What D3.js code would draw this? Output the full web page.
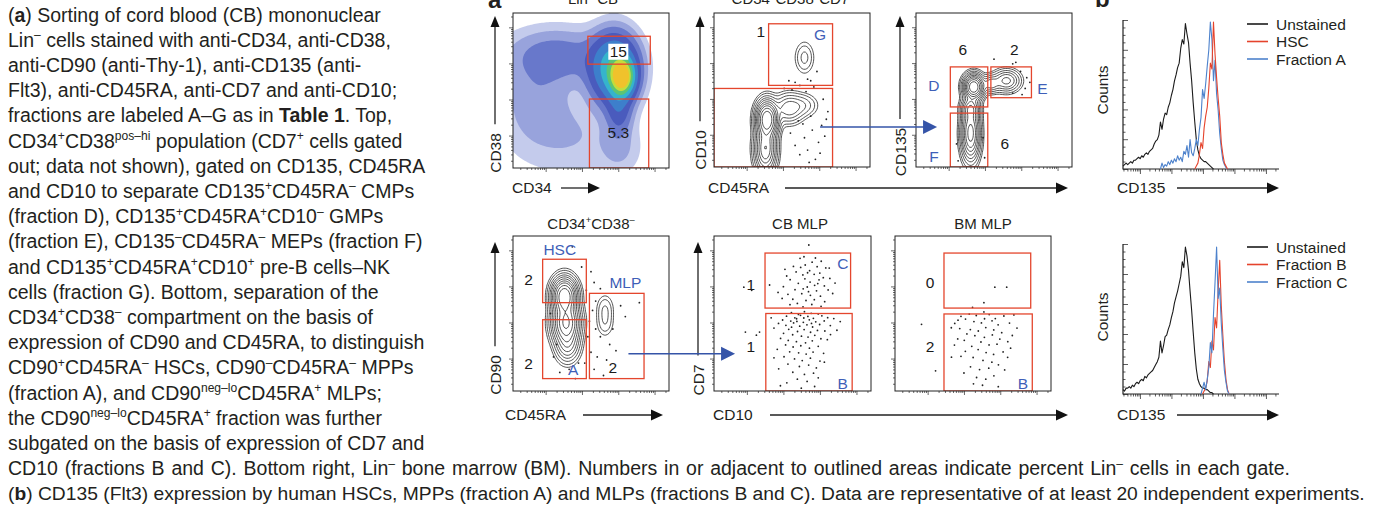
<!DOCTYPE html>
<html>
<head>
<meta charset="utf-8">
<script src="https://cdn.jsdelivr.net/npm/d3@7"></script>
<style>
  body { margin: 0; background: #fff; }
  text { font-family: "Liberation Sans", Arial, sans-serif; fill: #231f20; }
</style>
</head>
<body>
<div id="figure"></div>
<script>
// ---------- caption ----------
const captionLeft = [
  '(**a**) Sorting of cord blood (CB) mononuclear',
  'Lin^{–} cells stained with anti-CD34, anti-CD38,',
  'anti-CD90 (anti-Thy-1), anti-CD135 (anti-',
  'Flt3), anti-CD45RA, anti-CD7 and anti-CD10;',
  'fractions are labeled A–G as in **Table 1**. Top,',
  'CD34^{+}CD38^{pos–hi} population (CD7^{+} cells gated',
  'out; data not shown), gated on CD135, CD45RA',
  'and CD10 to separate CD135^{+}CD45RA^{–} CMPs',
  '(fraction D), CD135^{+}CD45RA^{+}CD10^{–} GMPs',
  '(fraction E), CD135^{–}CD45RA^{–} MEPs (fraction F)',
  'and CD135^{+}CD45RA^{+}CD10^{+} pre-B cells–NK',
  'cells (fraction G). Bottom, separation of the',
  'CD34^{+}CD38^{–} compartment on the basis of',
  'expression of CD90 and CD45RA, to distinguish',
  'CD90^{+}CD45RA^{–} HSCs, CD90^{–}CD45RA^{–} MPPs',
  '(fraction A), and CD90^{neg–lo}CD45RA^{+} MLPs;',
  'the CD90^{neg–lo}CD45RA^{+} fraction was further',
  'subgated on the basis of expression of CD7 and'
];
const captionWide = [
  'CD10 (fractions B and C). Bottom right, Lin^{–} bone marrow (BM). Numbers in or adjacent to outlined areas indicate percent Lin^{–} cells in each gate.',
  '(**b**) CD135 (Flt3) expression by human HSCs, MPPs (fraction A) and MLPs (fractions B and C). Data are representative of at least 20 independent experiments.'
];
const captionWideWidths = [1282, 1358];

// ---------- flow panels: populations as [x, y, spreadX, spreadY, weight] in 0-100 display units ----------
const linCBComponents = [
  [70, 59, 4.5, 7, 1.0], [65, 64, 9, 13, 0.5], [28, 72, 20, 11, 0.09], [15, 45, 14, 16, 0.045],
  [35, 20, 25, 16, 0.03], [68, 38, 5, 10, 0.14], [68, 12, 8, 10, 0.03]
];
const linCBLevels = [0.012, 0.03, 0.06, 0.11, 0.2, 0.34, 0.52, 0.72, 0.9];
const linCBGates = [[48, 88, 67, 85], [49, 87, 0, 44.5]];
const linCBLabels = [['15', 67.5, 75, 'k', true], ['5.3', 67.5, 23, 'k']];

const cd7negComponents = [
  [34, 31, 3.5, 6, 1.0], [33, 12, 3.5, 8, 0.5], [48, 38, 5, 5, 0.15], [57, 40, 5, 4, 0.06], [58, 71, 3.3, 5.6, 0.05]
];
const cd7negGates = [[35, 76, 53, 93], [0, 76, 0, 51]];
const cd7negLabels = [['1', 30, 88, 'k'], ['G', 68, 86, 'b']];
const cd7negDots = [
  [49, 22], [52, 14], [55, 8], [58, 19], [60, 11], [63, 24], [65, 5], [67, 16], [69, 27], [72, 31], [57, 28],
  [54, 30], [62, 33], [68, 9], [61, 3], [71, 20], [73, 36], [70, 44], [59, 49], [50, 50], [45, 51], [64, 52],
  [62, 56], [55, 53], [48, 56], [66, 62], [52, 55], [60, 57]
];

const cmpComponents = [
  [37, 52, 3.2, 4, 1.0], [35, 22, 3, 9, 0.6], [35, 38, 3, 4, 0.3], [58, 56, 4.5, 3.7, 0.2], [48, 54, 3, 3, 0.15]
];
const cmpGates = [[22, 46, 39, 65], [48, 74, 45, 65], [22, 46, 0, 35]];
const cmpLabels = [['6', 30, 76, 'k'], ['2', 63, 76, 'k'], ['D', 11.5, 53, 'b'], ['E', 81, 51, 'b'], ['F', 11.5, 7, 'b'], ['6', 57, 15, 'k']];
const cmpDots = [[64, 68], [67, 62], [71, 58], [70, 51], [73, 55], [62, 67], [50, 70], [27, 4], [44, 6], [26, 15], [43, 19], [62, 48], [68, 47]];

const cd38negComponents = [
  [33, 61, 4, 6, 1.0], [34, 44, 4.5, 7, 0.75], [35, 30, 4, 6, 0.2], [59, 53, 3, 5, 0.04], [59, 44, 3, 5, 0.035]
];
const cd38negGates = [[19, 47, 57, 85], [19, 47, 8, 46], [49, 84, 8, 63]];
const cd38negLabels = [['HSC', 30, 91, 'b'], ['2', 10, 72, 'k'], ['MLP', 72, 70, 'b'], ['2', 10, 18, 'k'], ['A', 38.5, 14, 'b'], ['2', 64, 15, 'k']];
const cd38negDots = [
  [38, 93], [44, 80], [50, 77], [52, 70], [47, 65], [53, 58], [56, 66], [66, 67], [69, 55], [72, 48], [64, 40],
  [62, 30], [54, 22], [50, 25], [46, 18], [52, 14], [56, 35], [49, 45], [48, 35], [42, 18], [30, 12], [36, 14],
  [26, 22], [28, 30], [24, 50], [81, 57], [60, 20], [66, 26], [58, 10], [40, 8], [53, 40], [51, 52]
];

const cbMLPGates = [[32.5, 87, 53.5, 89], [33, 88, 0, 50]];
const cbMLPLabels = [['1', 23.5, 69, 'k'], ['C', 82, 82, 'b'], ['1', 23.5, 29, 'k'], ['B', 82, 5, 'b']];
const cbMLPDots = [
  [60.4, 94.2], [57.3, 86.6], [54.8, 85.6], [71.2, 79.4], [62.5, 83.1], [58.1, 81.3], [65.7, 80.2], [60.9, 77.6],
  [52.3, 76.8], [67.4, 76.1], [46.3, 74.2], [56.6, 74.9], [63.8, 75.3], [69.6, 73.1], [48.5, 71.8], [57.9, 72.4],
  [61.2, 70.3], [66.9, 71.7], [73.8, 72.6], [53.7, 69.5], [64.1, 68.2], [59.4, 67.1], [70.3, 67.8], [44.2, 67.3],
  [51.6, 65.4], [56.8, 65.9], [65.3, 64.6], [72.7, 65.2], [40.8, 63.6], [47.1, 62.4], [55.9, 62.8], [61.4, 61.7],
  [67.8, 61.2], [75.6, 62.9], [43.4, 59.7], [50.2, 59.2], [58.6, 58.4], [63.9, 58.9], [70.5, 57.6], [53.1, 56.5],
  [62.3, 55.8], [48.4, 55.7], [68.2, 54.6], [56.7, 54.3], [77.1, 69.6], [73.4, 79.3], [50.6, 80.4], [45.2, 78.5],
  [64.6, 85.8], [68.3, 83.7], [35.4, 68.4], [60.2, 64.1], [66.1, 69.3], [59.6, 76.3], [55.2, 79.7],
  [49.3, 50.6], [53.8, 49.4], [57.6, 51.2], [61.9, 50.1], [66.4, 49.7], [46.2, 48.3], [51.5, 47.2], [55.1, 48.8],
  [59.8, 48.1], [63.3, 46.9], [68.7, 48.5], [72.4, 47.3], [43.7, 45.8], [48.9, 45.1], [52.6, 46.6], [56.9, 44.3],
  [60.7, 45.9], [64.8, 44.6], [70.2, 45.2], [76.3, 46.7], [41.1, 43.6], [45.8, 42.4], [50.7, 43.9], [54.6, 41.8],
  [59.2, 42.7], [62.8, 41.3], [67.3, 42.9], [74.1, 42.2], [80.4, 44.8], [38.2, 40.6], [47.6, 39.8], [53.2, 38.4],
  [57.4, 39.6], [61.5, 37.9], [65.9, 39.1], [70.6, 38.7], [44.3, 37.2], [50.1, 36.3], [55.7, 35.4], [59.9, 34.8],
  [64.2, 35.9], [68.1, 33.7], [42.4, 33.9], [47.3, 32.6], [52.5, 31.8], [58.3, 31.1], [62.6, 32.4], [72.2, 33.1],
  [45.6, 29.7], [50.4, 28.4], [55.3, 29.2], [60.8, 27.6], [66.4, 28.8], [40.3, 26.9], [48.2, 25.3], [53.9, 24.6],
  [58.7, 23.8], [63.1, 25.1], [69.8, 24.3], [44.6, 22.1], [51.3, 20.7], [56.2, 19.6], [61.4, 21.2], [67.5, 19.3],
  [47.1, 17.4], [54.4, 15.8], [60.3, 16.7], [65.2, 14.9], [41.2, 14.3], [50.2, 12.1], [57.6, 10.7], [63.4, 11.5],
  [53.1, 7.6], [46.4, 5.3], [59.3, 6.2], [42.3, 3.4], [55.6, 1.8], [66.4, 8.5], [74.2, 36.4], [36.4, 47.2],
  [78.3, 39.2], [70.3, 18.6], [38.2, 21.4], [64.1, 2.9], [52.8, 44.9], [57.2, 47.1], [62.1, 43.6], [49.4, 41.2],
  [19, 67], [24, 65], [20, 38], [27, 36], [29, 38]
];

const bmMLPGates = [[31.4, 87, 53.5, 89], [31.4, 88, 0, 49.7]];
const bmMLPLabels = [['0', 22.4, 70, 'k'], ['2', 22.4, 29, 'k'], ['B', 82, 5, 'b']];
const bmMLPDots = [
  [64, 67], [71.6, 67], [57, 57], [49.7, 54], [57, 51],
  [42.3, 48.2], [47.6, 49.6], [52.1, 48.7], [60.4, 49.3], [69.8, 48.4], [76.2, 49.1], [40.4, 45.7], [45.2, 46.4],
  [50.6, 44.8], [38.3, 43.6], [55.4, 43.9], [62.2, 45.3], [66.1, 42.7], [73.4, 43.8], [78.2, 40.6], [36.1, 40.8],
  [41.5, 40.3], [48.3, 39.6], [53.4, 38.7], [58.2, 40.9], [63.3, 39.4], [68.4, 37.6], [46.1, 36.8], [51.2, 35.7],
  [57.3, 34.6], [62.4, 36.2], [67.2, 33.5], [72.3, 31.8], [40.2, 33.6], [44.4, 32.7], [55.1, 31.6], [60.3, 29.7],
  [65.4, 30.2], [74.1, 27.6], [49.2, 28.8], [53.3, 26.7], [58.4, 24.8], [63.2, 23.6], [69.3, 25.2], [45.1, 25.6],
  [36.2, 21.8], [42.3, 22.4], [50.1, 21.6], [56.4, 19.7], [62.1, 18.6], [66.3, 16.9], [72.2, 21.7], [48.4, 15.6],
  [54.2, 13.8], [60.1, 14.7], [44.2, 11.6], [52.3, 8.7], [58.2, 7.6], [63.4, 9.8], [50.3, 4.6], [56.1, 3.7],
  [66.2, 2.8], [70.3, 13.6], [38.1, 29.6], [75.2, 35.8], [64.3, 46.7], [57.4, 46.6], [17, 43], [26, 13]
];

const contourLevels = [0.01, 0.02, 0.04, 0.07, 0.11, 0.17, 0.25, 0.35, 0.5, 0.7];

// ---------- histograms: counts (% of max) per channel step ----------
const unstainedTop = [2, 3, 4, 3, 4, 5, 4, 6, 6, 7, 8, 7, 9, 8, 10, 11, 10, 12, 13, 14, 17, 19, 20, 23, 32, 27, 34, 38, 37, 42,
  45, 50, 54, 60, 64, 69, 72, 82, 88, 85, 99, 92, 86, 72, 60, 45, 32, 20, 13, 9, 7, 6, 5, 5, 4, 3, 2, 1, 0];
const hscTop = [0, 2, 4, 10, 18, 14, 28, 36, 42, 55, 72, 68, 100, 78, 62, 48, 36, 18, 10, 4, 2, 0];          // from 46
const fractionATop = [0, 4, 1, 3, 2, 5, 3, 6, 4, 7, 5, 9, 6, 8, 5, 12, 10, 16, 8, 20, 11, 9, 14, 20, 16, 27, 35,
  54, 48, 58, 70, 81, 100, 88, 60, 74, 51, 40, 24, 14, 6, 3, 1, 0];                                        // from 24
const unstainedBottom = [3, 2, 4, 4, 5, 4, 6, 5, 7, 8, 7, 9, 10, 9, 12, 11, 13, 14, 15, 16, 18, 20, 22, 25, 36, 28, 33,
  39, 40, 44, 47, 52, 56, 62, 66, 70, 75, 80, 90, 86, 100, 94, 84, 70, 57, 42, 28, 17, 10, 7, 5, 4, 4, 3, 3, 2, 1, 1, 0];
const fractionBBottom = [0, 2, 4, 9, 22, 18, 36, 30, 52, 45, 70, 91, 60, 40, 22, 10, 3, 0];               // from 51
const fractionCBottom = [0, 4, 8, 3, 10, 18, 35, 28, 54, 76, 100, 65, 72, 48, 31, 16, 8, 2, 0];            // from 50
const legendTop = ['Unstained', 'HSC', 'Fraction A'];
const legendBottom = ['Unstained', 'Fraction B', 'Fraction C'];

// ---------- drawing ----------
const RED = '#e4462d', BLUE_TXT = '#3f5fb8', ARROW_BLUE = '#3554a8';
const HIST_COLORS = { black: '#1b1b1b', red: '#e5432c', blue: '#4d82cc' };
const linCBColors = ['#c4cbec', '#98a3dc', '#6878cb', '#4a5bbd', '#3d7fcb', '#35b4cc', '#5cc574', '#c3dc3c', '#f0c22c'];

const svg = d3.select('#figure').append('svg').attr('width', 1377).attr('height', 509);
svg.append('rect').attr('width', 1377).attr('height', 509).attr('fill', '#fff');
const defs = svg.append('defs');

function rich(text, str, fs) {
  const parts = str.split(/(\^\{[^}]*\}|\*\*[^*]*\*\*)/).filter(s => s.length);
  let up = false;
  parts.forEach(p => {
    const t = text.append('tspan');
    if (p.startsWith('^{')) {
      t.text(p.slice(2, -1)).attr('font-size', fs * 0.62);
      if (!up) t.attr('dy', -fs * 0.38);
      up = true;
    } else {
      if (up) t.attr('dy', fs * 0.38);
      up = false;
      if (p.startsWith('**')) t.text(p.slice(2, -2)).attr('font-weight', 'bold');
      else t.text(p);
    }
  });
  return text;
}

// caption: wide lines are fitted to the measured widths of the reference
const cap = svg.append('g');
captionLeft.concat(captionWide).forEach((line, i) => {
  const k = i - captionLeft.length;
  let fs = 19.5;
  const t = rich(cap.append('text').attr('x', 8).attr('y', 21.5 + i * 25.2).attr('font-size', fs), line, fs);
  if (k >= 0) {
    const w = t.node().getComputedTextLength();
    if (w > captionWideWidths[k]) {
      fs = fs * captionWideWidths[k] / w;
      t.remove();
      rich(cap.append('text').attr('x', 8).attr('y', 21.5 + i * 25.2).attr('font-size', fs), line, fs);
    } else {
      const spaces = (line.match(/ /g) || []).length;
      t.attr('word-spacing', (captionWideWidths[k] - w) / spaces);
    }
  }
});

svg.append('text').attr('x', 488).attr('y', 8).attr('font-size', 24).attr('font-weight', 'bold').text('a');
svg.append('text').attr('x', 1095).attr('y', 7).attr('font-size', 24).attr('font-weight', 'bold').text('b');

let clipCount = 0;
function facsPanel(box) {
  const x = d3.scaleLinear().domain([0, 100]).range([box.x0, box.x1]);
  const y = d3.scaleLinear().domain([0, 100]).range([box.y1, box.y0]);
  const id = 'clip' + (clipCount++);
  defs.append('clipPath').attr('id', id).append('rect')
    .attr('x', box.x0).attr('y', box.y0).attr('width', box.x1 - box.x0).attr('height', box.y1 - box.y0);
  const g = svg.append('g');
  const inner = g.append('g').attr('clip-path', `url(#${id})`);
  return { x, y, g, inner, box };
}

function facsFrame(P) {
  const lx = d3.scaleLog().domain([12.6, 2.5e5]).range([P.box.x0, P.box.x1]);
  const ly = lx.copy().range([P.box.y1, P.box.y0]);
  const all = lx.ticks();
  const isDecade = v => Math.abs(Math.log10(v) - Math.round(Math.log10(v))) < 1e-6;
  [[all.filter(isDecade), 4], [all.filter(v => !isDecade(v)), 2]].forEach(([vals, size]) => {
    P.g.append('g').attr('class', 'tk').attr('transform', `translate(0,${P.box.y1})`)
      .call(d3.axisBottom(lx).tickValues(vals).tickSize(size).tickFormat(''));
    P.g.append('g').attr('class', 'tk').attr('transform', `translate(${P.box.x0},0)`)
      .call(d3.axisLeft(ly).tickValues(vals).tickSize(size).tickFormat(''));
  });
  P.g.selectAll('.tk .domain').remove();
  P.g.selectAll('.tk line').attr('stroke', '#444').attr('stroke-width', 0.8);
  P.g.append('rect').attr('x', P.box.x0).attr('y', P.box.y0)
    .attr('width', P.box.x1 - P.box.x0).attr('height', P.box.y1 - P.box.y0)
    .attr('fill', 'none').attr('stroke', '#222').attr('stroke-width', 1);
}

const GRID = 100;
function contoursFor(P, comps, levels) {
  const vals = new Array(GRID * GRID);
  for (let j = 0; j < GRID; j++) {
    for (let i = 0; i < GRID; i++) {
      const dx = (i + 0.5) * 100 / GRID, dy = 100 - (j + 0.5) * 100 / GRID;
      let s = 0;
      comps.forEach(([cx, cy, sx, sy, w]) => {
        s += w * Math.exp(-0.5 * (((dx - cx) / sx) ** 2 + ((dy - cy) / sy) ** 2));
      });
      vals[i + j * GRID] = s;
    }
  }
  const proj = d3.geoTransform({
    point(px, py) { this.stream.point(P.x(px * 100 / GRID), P.y(100 - py * 100 / GRID)); }
  });
  return { cs: d3.contours().size([GRID, GRID]).thresholds(levels)(vals), path: d3.geoPath(proj) };
}

function drawContours(P, comps) {
  const { cs, path } = contoursFor(P, comps, contourLevels);
  P.inner.selectAll('path.ct').data(cs).enter().append('path').attr('class', 'ct')
    .attr('d', path).attr('fill', 'none').attr('stroke', '#1a1a1a').attr('stroke-width', 0.75);
}

function drawDots(P, dots) {
  P.inner.selectAll('circle.dot').data(dots).enter().append('circle').attr('class', 'dot')
    .attr('cx', d => P.x(d[0])).attr('cy', d => P.y(d[1])).attr('r', 0.9).attr('fill', '#222');
}

function drawGates(P, gates, labels) {
  P.inner.selectAll('rect.gate').data(gates).enter().append('rect').attr('class', 'gate')
    .attr('x', d => P.x(d[0])).attr('y', d => P.y(d[3]))
    .attr('width', d => P.x(d[1]) - P.x(d[0])).attr('height', d => P.y(d[2]) - P.y(d[3]))
    .attr('fill', 'none').attr('stroke', RED).attr('stroke-width', 1.3);
  labels.forEach(l => {
    if (l[4]) {
      P.g.append('rect').attr('x', P.x(l[1]) - 10).attr('y', P.y(l[2]) - 8).attr('width', 20).attr('height', 16).attr('fill', '#fff');
    }
    P.g.append('text').attr('x', P.x(l[1])).attr('y', P.y(l[2])).attr('text-anchor', 'middle')
      .attr('dominant-baseline', 'central').attr('font-size', 15.5)
      .style('fill', l[3] === 'b' ? BLUE_TXT : '#1a1a1a').text(l[0]);
  });
}

function title(str, cx, base) {
  rich(svg.append('text').attr('x', cx).attr('y', base).attr('text-anchor', 'middle').attr('font-size', 15), str, 15);
}

// --- top row ---
const pLin = facsPanel({ x0: 513, x1: 669, y0: 13, y1: 168 });
{
  const { cs, path } = contoursFor(pLin, linCBComponents, linCBLevels);
  pLin.inner.selectAll('path.band').data(cs).enter().append('path').attr('class', 'band')
    .attr('d', path).attr('fill', (d, i) => linCBColors[i]).attr('stroke', 'none');
}
drawGates(pLin, linCBGates, linCBLabels);
facsFrame(pLin);
title('Lin^{–} CB', 593, 4);

const pCd7 = facsPanel({ x0: 714, x1: 870, y0: 13, y1: 167 });
drawContours(pCd7, cd7negComponents);
drawDots(pCd7, cd7negDots);
drawGates(pCd7, cd7negGates, cd7negLabels);
facsFrame(pCd7);
title('CD34^{+}CD38^{+}CD7^{–}', 793, 4);

const pCmp = facsPanel({ x0: 916, x1: 1072, y0: 13, y1: 167 });
drawContours(pCmp, cmpComponents);
drawDots(pCmp, cmpDots);
drawGates(pCmp, cmpGates, cmpLabels);
facsFrame(pCmp);

// --- bottom row ---
const pCd38 = facsPanel({ x0: 513, x1: 669, y0: 236, y1: 391 });
drawContours(pCd38, cd38negComponents);
drawDots(pCd38, cd38negDots);
drawGates(pCd38, cd38negGates, cd38negLabels);
facsFrame(pCd38);
title('CD34^{+}CD38^{–}', 591, 229);

const pCb = facsPanel({ x0: 714, x1: 871, y0: 236, y1: 391 });
drawDots(pCb, cbMLPDots);
drawGates(pCb, cbMLPGates, cbMLPLabels);
facsFrame(pCb);
title('CB MLP', 800, 229);

const pBm = facsPanel({ x0: 895, x1: 1051, y0: 236, y1: 391 });
drawDots(pBm, bmMLPDots);
drawGates(pBm, bmMLPGates, bmMLPLabels);
facsFrame(pBm);
title('BM MLP', 983, 229);

// --- axis arrows ---
function arrowHead(g, tipX, tipY, dir, len, half, color) {
  const pts = dir === 'up'
    ? [[tipX, tipY], [tipX - half, tipY + len], [tipX + half, tipY + len]]
    : [[tipX, tipY], [tipX - len, tipY - half], [tipX - len, tipY + half]];
  g.append('path').attr('d', 'M' + pts.join('L') + 'Z').attr('fill', color);
}
const axG = svg.append('g');
// y arrows: [label, x, label centre y, tip y]
[['CD38', 495, 153, 16], ['CD10', 700, 150, 16], ['CD135', 900, 152, 16], ['CD90', 495, 375, 242], ['CD7', 698, 380, 242]]
  .forEach(([lab, x, cy, tip]) => {
    const t = axG.append('text').attr('transform', `translate(${x},${cy}) rotate(-90)`)
      .attr('text-anchor', 'middle').attr('dominant-baseline', 'central').attr('font-size', 15.5).text(lab);
    const half = t.node().getComputedTextLength() / 2;
    axG.append('line').attr('x1', x).attr('x2', x).attr('y1', cy - half - 9).attr('y2', tip + 8)
      .attr('stroke', '#222').attr('stroke-width', 1.3);
    arrowHead(axG, x, tip, 'up', 11, 4.5, '#111');
  });
// x arrows: [label, label x, baseline, line y, line start, tip x]
[['CD34', 512, 193, 188, 561, 600], ['CD45RA', 708, 193, 188, 785, 1068], ['CD135', 1117, 193, 188, 1177, 1279],
 ['CD45RA', 505, 420, 415, 583, 663], ['CD10', 713, 420, 415, 770, 1068], ['CD135', 1117, 420, 415, 1177, 1279]]
  .forEach(([lab, lx, base, ly, x1, tip]) => {
    axG.append('text').attr('x', lx).attr('y', base).attr('font-size', 15.5).text(lab);
    axG.append('line').attr('x1', x1).attr('x2', tip - 8).attr('y1', ly).attr('y2', ly)
      .attr('stroke', '#222').attr('stroke-width', 1.3);
    arrowHead(axG, tip, ly, 'right', 12, 5.5, '#111');
  });
[90, 317].forEach(cy => {
  axG.append('text').attr('transform', `translate(1102,${cy}) rotate(-90)`)
    .attr('text-anchor', 'middle').attr('dominant-baseline', 'central').attr('font-size', 15.5).text('Counts');
});

// blue gating arrows (from panel point to panel point, in panel units)
[[pCd7, 68, 26, pCmp, 13.5, 26], [pCd38, 74, 24, pCb, 13.4, 24]].forEach(([A, fx, fy, B, tx, ty]) => {
  const x1 = A.x(fx), y1 = A.y(fy), x2 = B.x(tx), y2 = B.y(ty);
  axG.append('line').attr('x1', x1).attr('y1', y1).attr('x2', x2 - 10).attr('y2', y2)
    .attr('stroke', ARROW_BLUE).attr('stroke-width', 1.6);
  arrowHead(axG, x2, y2, 'right', 14, 7, ARROW_BLUE);
});

// --- histograms ---
function histogram(box, series, legend, legendTop) {
  const g = svg.append('g');
  const x = d3.scaleLinear().domain([0, 100]).range([box.x0, box.x1]);
  const y = d3.scaleLinear().domain([0, 100]).range([box.y1, box.yPeak]);
  const yAx = d3.scaleLinear().domain([0, 100]).range([box.y1, box.yTop]);
  const lx = d3.scaleLog().domain([2.9, 2.6e5]).range([box.x0, box.x1]);
  const all = lx.ticks();
  const isDecade = v => Math.abs(Math.log10(v) - Math.round(Math.log10(v))) < 1e-6;
  [[all.filter(isDecade), 5], [all.filter(v => !isDecade(v)), 2.5]].forEach(([vals, size]) => {
    g.append('g').attr('class', 'tk').attr('transform', `translate(0,${box.y1})`)
      .call(d3.axisBottom(lx).tickValues(vals).tickSize(size).tickFormat(''));
  });
  [[d3.range(0, 101, 20), -5], [d3.range(0, 101, 5).filter(v => v % 20), -2.5]].forEach(([vals, size]) => {
    g.append('g').attr('class', 'tk').attr('transform', `translate(${box.x0},0)`)
      .call(d3.axisLeft(yAx).tickValues(vals).tickSize(size).tickFormat(''));
  });
  g.selectAll('.tk .domain').remove();
  g.selectAll('.tk line').attr('stroke', '#333').attr('stroke-width', 0.8);
  g.append('path').attr('d', `M${box.x0},${box.yTop}V${box.y1}H${box.x1}`)
    .attr('fill', 'none').attr('stroke', '#222').attr('stroke-width', 1.2);
  series.forEach(s => {
    const line = d3.line().x((d, i) => x(s.start + i)).y(d => y(d));
    g.append('path').attr('d', line(s.values)).attr('fill', 'none')
      .attr('stroke', HIST_COLORS[s.color]).attr('stroke-width', 1.1).attr('stroke-linejoin', 'round');
  });
  const legendColors = ['black', 'red', 'blue'];
  legend.forEach((name, i) => {
    const ly = legendTop + i * 17.5;
    g.append('line').attr('x1', 1247).attr('x2', 1268).attr('y1', ly).attr('y2', ly)
      .attr('stroke', HIST_COLORS[legendColors[i]]).attr('stroke-width', 1.6);
    g.append('text').attr('x', 1276).attr('y', ly).attr('dominant-baseline', 'central')
      .attr('font-size', 15.5).text(name);
  });
}
histogram({ x0: 1123, x1: 1279, y1: 169, yPeak: 22, yTop: 20 }, [
  { values: unstainedTop, start: 0, color: 'black' },
  { values: fractionATop, start: 24, color: 'blue' },
  { values: hscTop, start: 46, color: 'red' }
], legendTop, 24);
histogram({ x0: 1123, x1: 1279, y1: 394, yPeak: 247, yTop: 244 }, [
  { values: unstainedBottom, start: 0, color: 'black' },
  { values: fractionBBottom, start: 51, color: 'red' },
  { values: fractionCBottom, start: 50, color: 'blue' }
], legendBottom, 247);
</script>
</body>
</html>
